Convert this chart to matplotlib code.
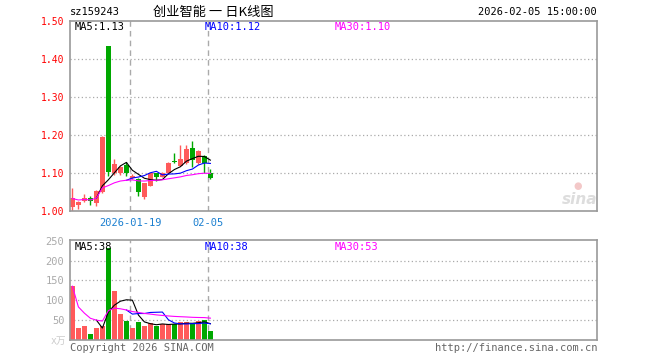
import matplotlib
matplotlib.use('Agg')
import matplotlib.pyplot as plt
import numpy as np
import pandas as pd

plt.rcParams['font.family'] = ['DejaVu Sans Mono', 'Noto Sans CJK SC']

# 日K数据 (sz159243 创业智能)
opens = [1.010, 1.016, 1.026, 1.035, 1.020, 1.050, 1.435, 1.099, 1.099, 1.121, 1.088, 1.084,
         1.038, 1.067, 1.099, 1.091, 1.099, 1.131, 1.120, 1.126, 1.166, 1.127, 1.145, 1.101]
closes = [1.033, 1.025, 1.033, 1.026, 1.053, 1.196, 1.104, 1.125, 1.117, 1.099, 1.092, 1.051,
          1.073, 1.099, 1.091, 1.101, 1.127, 1.129, 1.136, 1.164, 1.135, 1.158, 1.126, 1.088]
highs = [1.060, 1.027, 1.045, 1.040, 1.056, 1.198, 1.435, 1.136, 1.120, 1.128, 1.098, 1.086,
         1.075, 1.101, 1.101, 1.104, 1.130, 1.153, 1.173, 1.173, 1.185, 1.160, 1.147, 1.110]
lows = [1.000, 1.004, 1.024, 1.017, 1.013, 1.048, 1.093, 1.095, 1.095, 1.092, 1.085, 1.040,
        1.031, 1.065, 1.079, 1.089, 1.097, 1.126, 1.118, 1.124, 1.117, 1.125, 1.099, 1.084]
volumes = [135, 30, 35, 15, 30, 35, 233, 122, 65, 48, 30, 45,
           35, 42, 35, 40, 38, 40, 44, 44, 39, 46, 50, 22]

date_ticks = {10: '2026-01-19', 23: '02-05'}
price_ticks = [1.00, 1.10, 1.20, 1.30, 1.40, 1.50]
vol_ticks = [50, 100, 150, 200, 250]

RED = '#ff5a5a'
GREEN = '#00a800'
FRAME = '#999999'

fig = plt.figure(figsize=(6.6, 3.6), dpi=100)
ax = fig.add_axes([70 / 660, 1 - 211 / 360, 527 / 660, 190.5 / 360])
axv = fig.add_axes([70 / 660, 1 - 339.5 / 360, 527 / 660, 99.5 / 360])

x = np.arange(len(closes))
o = np.array(opens)
c = np.array(closes)
up = c >= o
colors = [RED if u else GREEN for u in up]
w = 0.8

# 蜡烛图
body_lo = np.minimum(o, c)
body_h = np.maximum(np.abs(c - o), 0.002)
ax.vlines(x + w / 2, lows, highs, colors=colors, linewidth=1)
ax.bar(x, body_h, w, bottom=body_lo, color=colors, align='edge', linewidth=0)

# 均线
s = pd.Series(closes)
ax.plot(x + w / 2, s.rolling(5).mean(), color='black', lw=0.8)
ax.plot(x + w / 2, s.rolling(10).mean(), color='blue', lw=0.8)
ax.plot(x + w / 2, s.expanding().mean(), color='magenta', lw=0.8)

# 成交量
axv.bar(x, volumes, w, color=colors, align='edge', linewidth=0)
v = pd.Series(volumes)
axv.plot(x + w / 2, v.rolling(5).mean(), color='black', lw=0.8)
axv.plot(x + w / 2, v.rolling(10).mean(), color='blue', lw=0.8)
axv.plot(x + w / 2, v.expanding().mean(), color='magenta', lw=0.8)

for a in (ax, axv):
    a.set_xlim(0, 527 / 6)
    for sp in a.spines.values():
        sp.set_color(FRAME)
        sp.set_linewidth(1.2)
    a.tick_params(length=0, pad=4)
    a.set_xticks([])
    for xi in date_ticks:
        a.axvline(xi, color='#aaaaaa', linestyle=(0, (4, 3)), lw=1, zorder=0)

ax.set_ylim(1.0, 1.5026)
ax.set_yticks(price_ticks)
ax.set_yticklabels(['%.2f' % t for t in price_ticks], color='red', fontsize=7)
for t in price_ticks[1:-1]:
    ax.axhline(t, color='#aaaaaa', linestyle=(0, (1, 2)), lw=0.9, zorder=0)

axv.set_ylim(0, 252)
axv.set_yticks(vol_ticks)
axv.set_yticklabels([str(t) for t in vol_ticks], color='#aaaaaa', fontsize=7.5)
for t in vol_ticks[:-1]:
    axv.axhline(t, color='#aaaaaa', linestyle=(0, (1, 2)), lw=0.9, zorder=0)

for xi, lab in date_ticks.items():
    ax.text(xi, -0.035, lab, transform=ax.get_xaxis_transform(), ha='center', va='top',
            color='#1a7fd0', fontsize=7.5)

# 文字
fig.text(70 / 660, 1 - 12 / 360, 'sz159243', fontsize=7.5, va='center', ha='left')
fig.text(213 / 660, 1 - 12 / 360, '创业智能 一 日K线图', fontsize=9.5, va='center', ha='center',
         family=['Noto Sans CJK SC', 'DejaVu Sans'])
fig.text(597 / 660, 1 - 12 / 360, '2026-02-05 15:00:00', fontsize=7.5, va='center', ha='right')

fig.text(75 / 660, 1 - 27 / 360, 'MA5:1.13', fontsize=7.5, va='center', color='black')
fig.text(205 / 660, 1 - 27 / 360, 'MA10:1.12', fontsize=7.5, va='center', color='blue')
fig.text(335 / 660, 1 - 27 / 360, 'MA30:1.10', fontsize=7.5, va='center', color='magenta')
fig.text(75 / 660, 1 - 247 / 360, 'MA5:38', fontsize=7.5, va='center', color='black')
fig.text(205 / 660, 1 - 247 / 360, 'MA10:38', fontsize=7.5, va='center', color='blue')
fig.text(335 / 660, 1 - 247 / 360, 'MA30:53', fontsize=7.5, va='center', color='magenta')

fig.text(66 / 660, 1 - 341 / 360, 'x万', fontsize=7, va='center', ha='right', color='#cccccc',
         family=['DejaVu Sans Mono', 'Noto Sans CJK SC'])
fig.text(70 / 660, 1 - 348 / 360, 'Copyright 2026 SINA.COM', fontsize=7.5, va='center', color='#666666')
fig.text(597 / 660, 1 - 348 / 360, 'http://finance.sina.com.cn', fontsize=7.5, va='center',
         ha='right', color='#666666')

# 水印
fig.text(580 / 660, 1 - 199 / 360, 'sina', fontsize=11, va='center', ha='center', color='#dddddd',
         style='italic', weight='bold', family='DejaVu Sans')
fig.text(578 / 660, 1 - 186 / 360, '●', fontsize=7, va='center', ha='center', color='#f3c8c8',
         family='DejaVu Sans')

fig.savefig('out.png', dpi=100)
